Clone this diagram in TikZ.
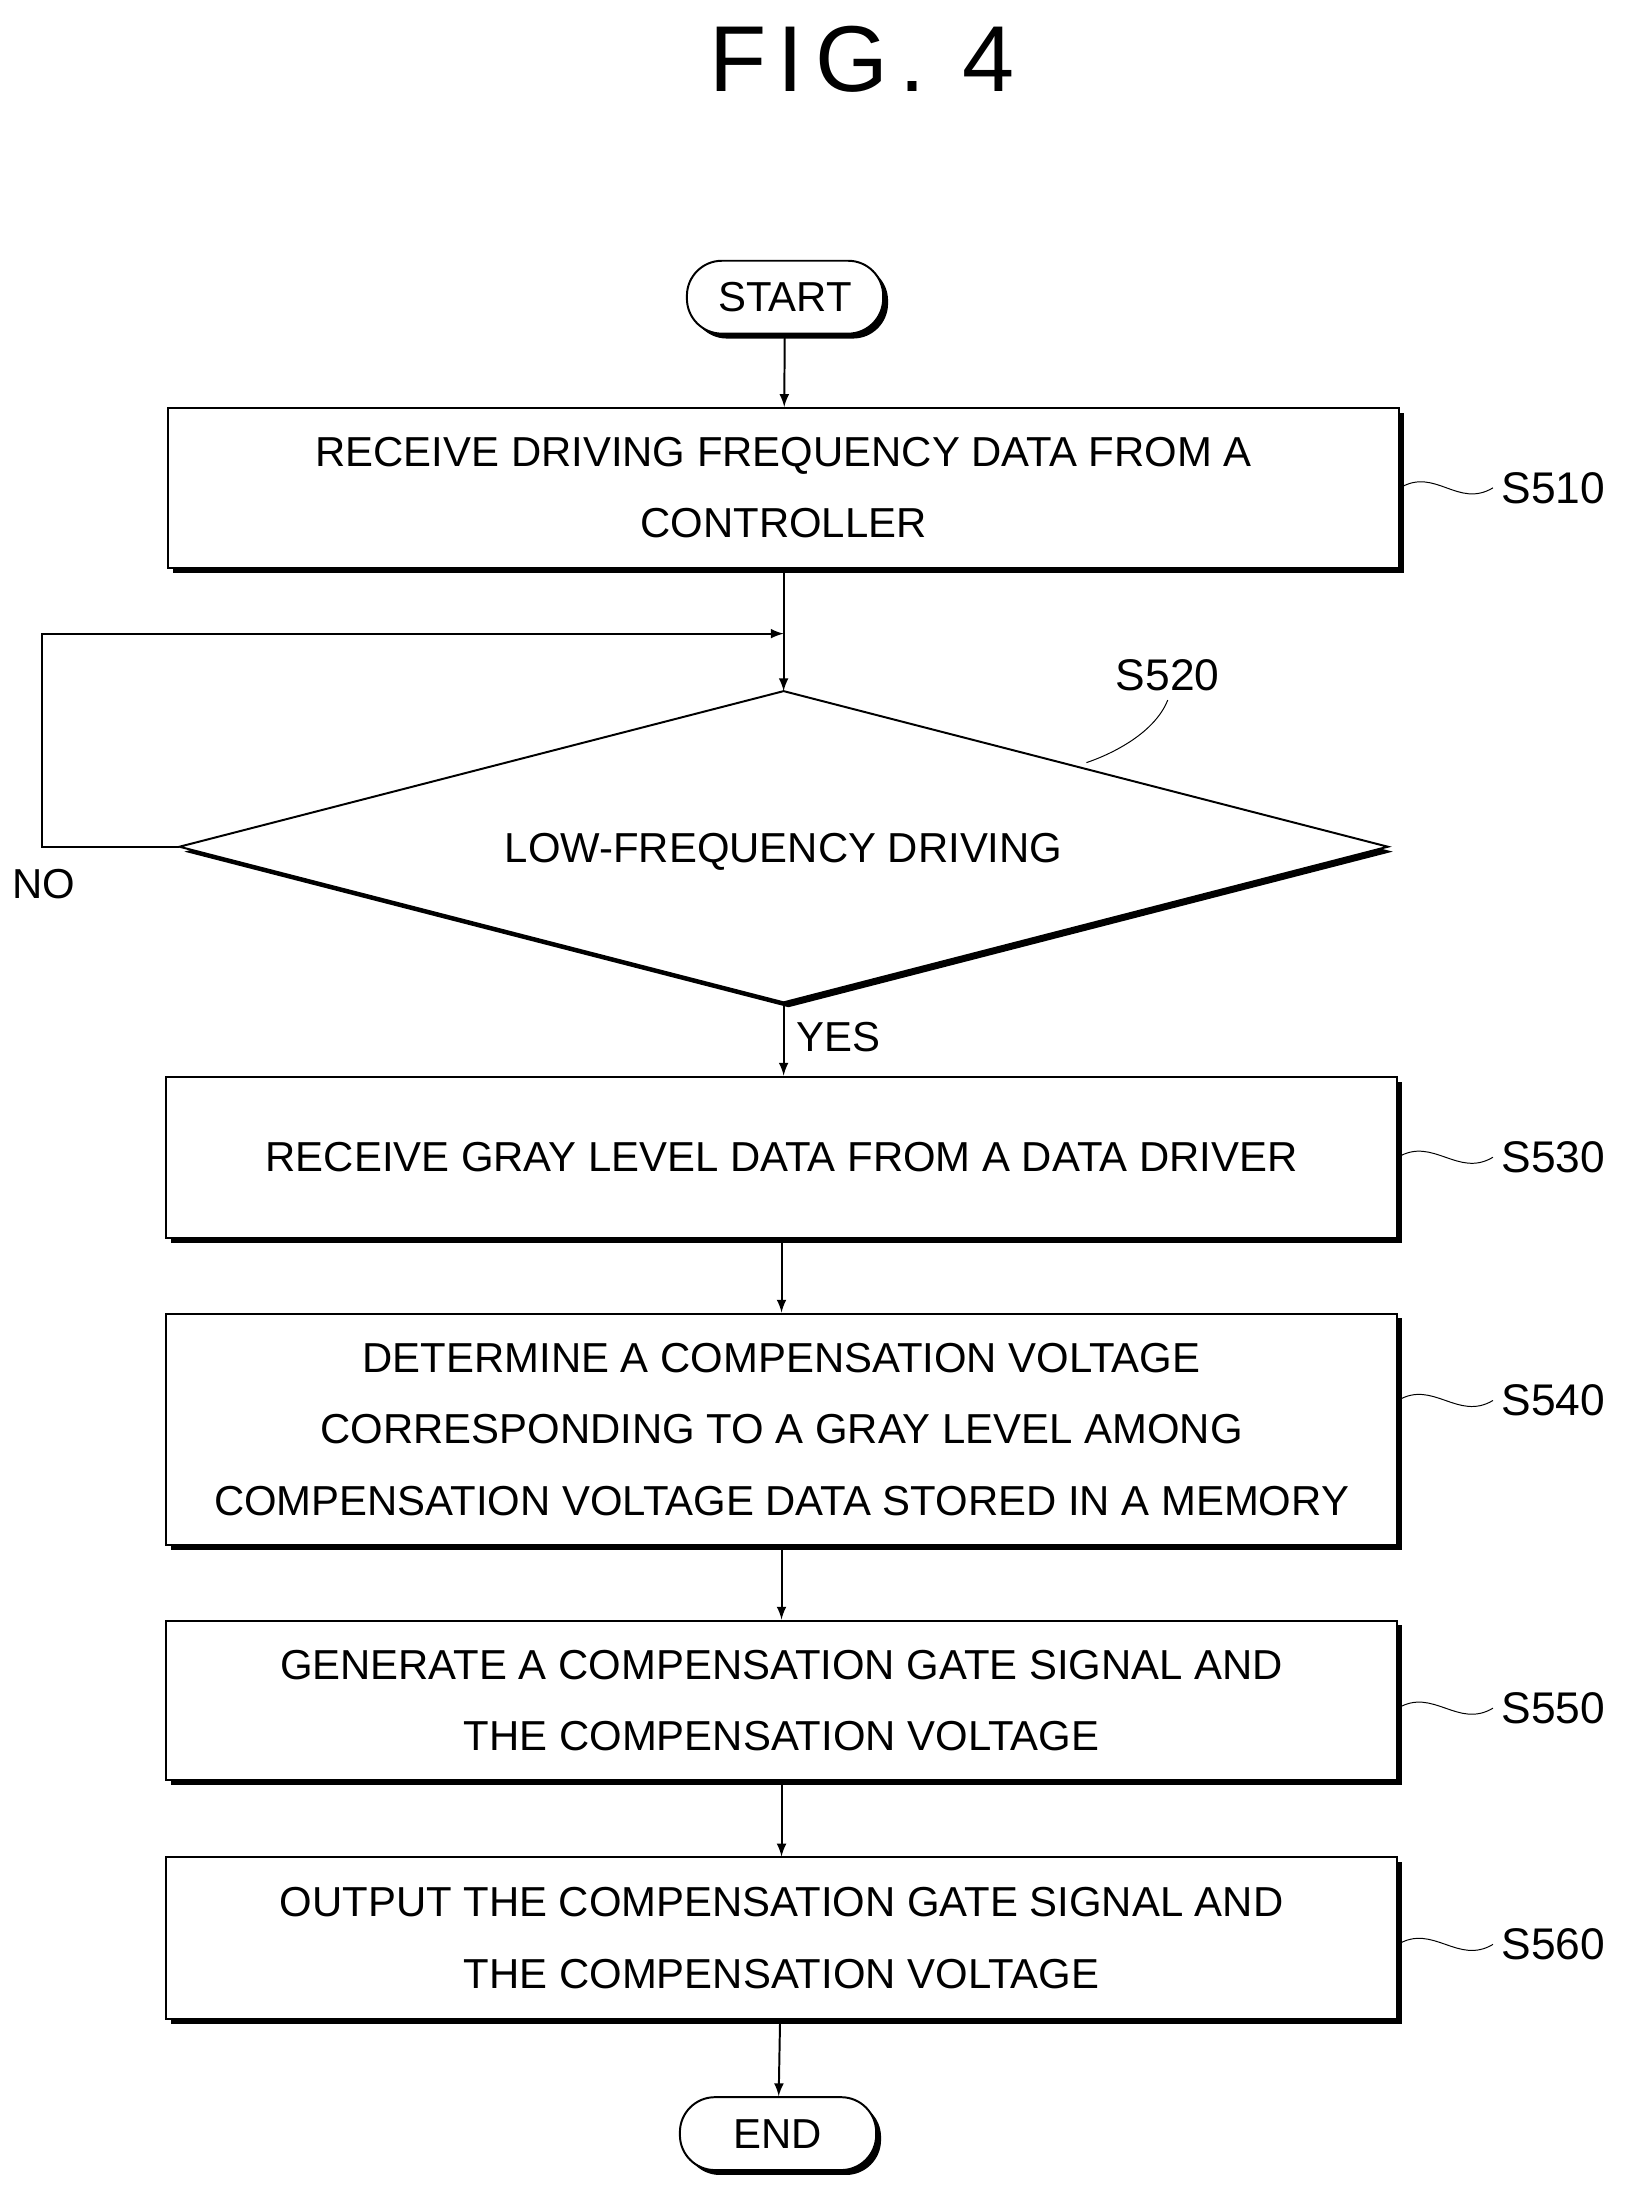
\documentclass[tikz,border=0pt]{standalone}
\usepackage{fontspec}
\setmainfont{Liberation Sans}
\newfontfamily\figfont[LetterSpace=12]{Liberation Sans}
\usetikzlibrary{shadows}

\tikzset{
  procbox/.style={draw,thick,fill=white,align=center,minimum width=17.56cm,
    font=\fontsize{17}{29}\selectfont,
    drop shadow={shadow xshift=0.07cm,shadow yshift=-0.07cm,fill=black,opacity=1}},
  term/.style={draw,thick,fill=white,rounded corners=0.5cm,minimum width=2.8cm,
    minimum height=1.04cm,font=\fontsize{17}{20}\selectfont,
    drop shadow={shadow xshift=0.07cm,shadow yshift=-0.07cm,fill=black,opacity=1}},
  tag/.style={font=\fontsize{18}{20}\selectfont,anchor=west},
  lead/.style={thin},
  flow/.style={thick,-latex}
}

\begin{document}
\begin{tikzpicture}
    \useasboundingbox (0,0) rectangle (23.2,-31.43);
    % Titel
    \node[font=\figfont\fontsize{38}{40}\selectfont] (fig) at (12.3,-0.84) {FIG. 4};
    % Start en stappen
    \node[term] (start) at (11.2,-4.24) {START};
    \node[procbox,minimum height=2.28cm] (s510) at (11.18,-6.96)
        {RECEIVE DRIVING FREQUENCY DATA FROM A\\CONTROLLER};
    % Beslissing (ruit)
    \coordinate (d-n) at (11.18,-9.86);
    \coordinate (d-s) at (11.18,-14.30);
    \coordinate (d-w) at (2.56,-12.08);
    \coordinate (d-e) at (19.80,-12.08);
    \fill[black] ([shift={(0.07,-0.07)}]d-n) -- ([shift={(0.07,-0.07)}]d-e)
        -- ([shift={(0.07,-0.07)}]d-s) -- ([shift={(0.07,-0.07)}]d-w) -- cycle;
    \draw[thick,fill=white] (d-n) -- (d-e) -- (d-s) -- (d-w) -- cycle;
    \node[font=\fontsize{17}{20}\selectfont] (s520) at (11.18,-12.15) {LOW-FREQUENCY DRIVING};
    \node[procbox,minimum height=2.3cm] (s530) at (11.15,-16.51)
        {RECEIVE GRAY LEVEL DATA FROM A DATA DRIVER};
    \node[procbox,minimum height=3.3cm] (s540) at (11.15,-20.39)
        {DETERMINE A COMPENSATION VOLTAGE\\CORRESPONDING TO A GRAY LEVEL AMONG\\COMPENSATION VOLTAGE DATA STORED IN A MEMORY};
    \node[procbox,minimum height=2.28cm] (s550) at (11.15,-24.26)
        {GENERATE A COMPENSATION GATE SIGNAL AND\\THE COMPENSATION VOLTAGE};
    \node[procbox,minimum height=2.3cm] (s560) at (11.15,-27.65)
        {OUTPUT THE COMPENSATION GATE SIGNAL AND\\THE COMPENSATION VOLTAGE};
    \node[term] (end) at (11.1,-30.44) {END};
    % Verbindingen
    \coordinate (join) at (11.18,-9.04);
    \draw[flow] (start) -- (s510);
    \draw[flow] (s510.south -| d-n) -- (d-n);
    \draw[flow] (d-w) -- ++(-1.96,0) |- (join);
    \draw[flow] (d-s) -- (d-s |- s530.north);
    \draw[flow] (s530) -- (s540);
    \draw[flow] (s540) -- (s550);
    \draw[flow] (s550) -- (s560);
    \draw[flow] (s560) -- (end);
    \node[font=\fontsize{17}{20}\selectfont] (no) at (0.62,-12.62) {NO};
    \node[font=\fontsize{17}{20}\selectfont] (yes) at (11.96,-14.8) {YES};
    % Stapnummers
    \foreach \s/\y in {510/-6.96,530/-16.51,540/-19.98,550/-24.37,560/-27.74} {
        \node[tag] (t\s) at (21.3,\y) {S\s};
        \draw[lead] (s\s.east |- t\s) .. controls +(0.5,0.3) and +(-0.5,-0.3) .. (t\s.west);
    }
    \node[font=\fontsize{18}{20}\selectfont] (t520) at (16.66,-9.64) {S520};
    \draw[lead] (t520.south) .. controls +(-0.2,-0.5) and +(0.3,0.1) .. (15.5,-10.88);
\end{tikzpicture}
\end{document}
